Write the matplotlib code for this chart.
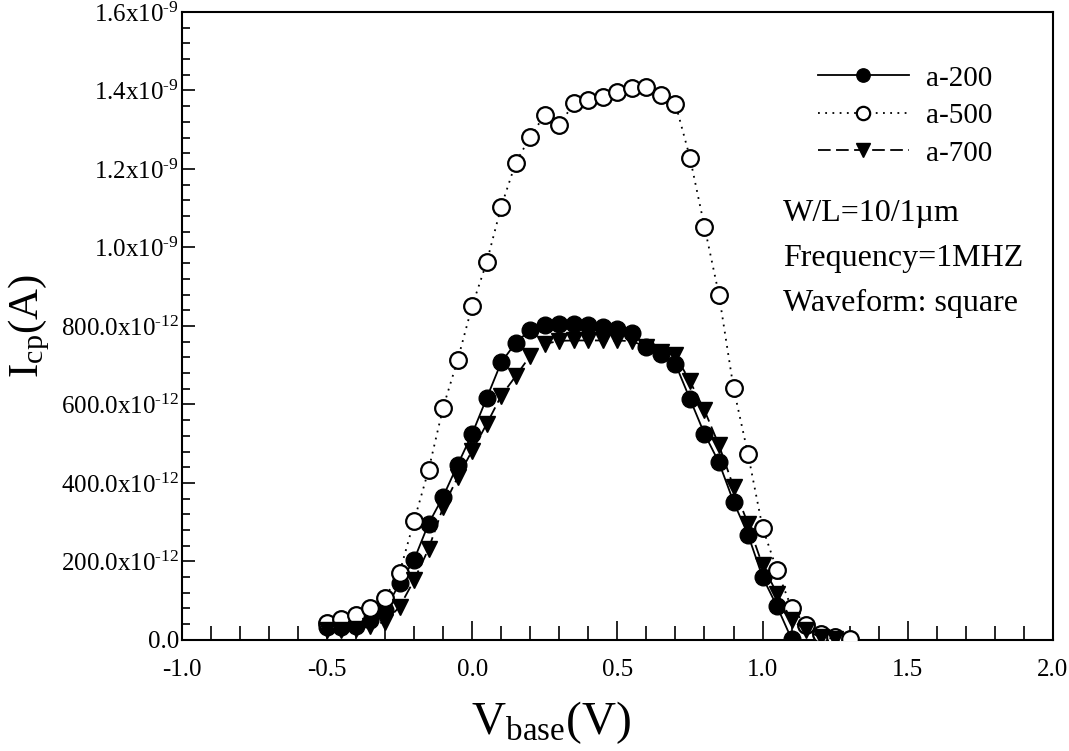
import numpy as np
import matplotlib
matplotlib.use("Agg")
import matplotlib.pyplot as plt
from matplotlib.ticker import FixedLocator, MultipleLocator, FormatStrFormatter

plt.rcParams["font.family"] = ["Liberation Serif", "DejaVu Serif"]
plt.rcParams["mathtext.fontset"] = "custom"
plt.rcParams["mathtext.rm"] = "Liberation Serif"
plt.rcParams["mathtext.it"] = "Liberation Serif:italic"

# base voltage sweeps (V)
v_a200 = np.round(np.arange(-0.50, 1.101, 0.05), 2)
v_a500 = np.round(np.arange(-0.50, 1.301, 0.05), 2)
v_a700 = np.round(np.arange(-0.50, 1.251, 0.05), 2)

# charge pumping current, in pA
icp_a200 = [32, 32, 36, 50, 75, 144, 204, 296, 365, 446, 525, 616, 707, 757,
            790, 803, 804, 805, 802, 798, 792, 783, 747, 729, 703, 614, 525,
            452, 352, 268, 160, 85, 2]
icp_a500 = [43, 53, 64, 81, 107, 171, 303, 433, 592, 713, 851, 962, 1104,
            1216, 1282, 1338, 1312, 1367, 1376, 1384, 1395, 1407, 1408, 1389,
            1366, 1229, 1053, 879, 642, 473, 286, 177, 81, 38, 15, 8, 2]
icp_a700 = [25, 24, 27, 36, 46, 84, 152, 232, 338, 414, 482, 550, 622, 672,
            724, 754, 762, 763, 763, 763, 763, 761, 747, 734, 725, 659, 585,
            496, 390, 296, 190, 118, 50, 25, 6, 3]

y_ticks = [0, 200e-12, 400e-12, 600e-12, 800e-12, 1.0e-9, 1.2e-9, 1.4e-9, 1.6e-9]
y_labels = ["0.0",
            r"200.0x10$^{\text{-12}}$", r"400.0x10$^{\text{-12}}$",
            r"600.0x10$^{\text{-12}}$", r"800.0x10$^{\text{-12}}$",
            r"1.0x10$^{\text{-9}}$", r"1.2x10$^{\text{-9}}$",
            r"1.4x10$^{\text{-9}}$", r"1.6x10$^{\text{-9}}$"]

notes = ["W/L=10/1\u00b5m", "Frequency=1MHZ", "Waveform: square"]

fig = plt.figure(figsize=(10.69, 7.51), dpi=100)
ax = fig.add_axes([0.170, 0.148, 0.815, 0.836])

ms = 12
ax.plot(v_a200, np.array(icp_a200) * 1e-12, color="black", lw=1.3, ls="-",
        marker="o", ms=ms, mfc="black", mec="black", label="a-200", zorder=3)
ax.plot(v_a500, np.array(icp_a500) * 1e-12, color="black", lw=1.3, ls=(0, (1, 3)),
        marker="o", ms=ms, mfc="white", mec="black", mew=1.6, label="a-500", zorder=4)
ax.plot(v_a700, np.array(icp_a700) * 1e-12, color="black", lw=1.3, ls=(0, (7, 3)),
        marker="v", ms=ms, mfc="black", mec="black", label="a-700", zorder=5)

ax.set_xlim(-1.0, 2.0)
ax.set_ylim(0, 1.6e-9)
ax.xaxis.set_major_locator(MultipleLocator(0.5))
ax.xaxis.set_minor_locator(MultipleLocator(0.1))
ax.xaxis.set_major_formatter(FormatStrFormatter("%.1f"))
ax.yaxis.set_major_locator(FixedLocator(y_ticks))
ax.set_yticklabels(y_labels)
ax.yaxis.set_minor_locator(MultipleLocator(40e-12))

ax.tick_params(axis="x", which="major", direction="in", length=14, width=1.2,
               labelsize=18, pad=14, top=False)
ax.tick_params(axis="x", which="minor", direction="in", length=10, width=1.2, top=False)
ax.tick_params(axis="y", which="major", direction="in", length=9.5, width=1.2,
               labelsize=18, pad=2, right=False)
ax.tick_params(axis="y", which="minor", direction="in", length=6, width=1.2, right=False)
for s in ax.spines.values():
    s.set_linewidth(1.5)

ax.set_xlabel(r"V$_{\mathrm{base}}$(V)", fontsize=34)
ax.xaxis.set_label_coords(0.424, -0.095)
ax.set_ylabel(r"I$_{\mathrm{cp}}$(A)", fontsize=31, labelpad=6)

ax.legend(loc="upper left", bbox_to_anchor=(792 / 1069, 1 - 39 / 751),
          bbox_transform=fig.transFigure, frameon=False,
          fontsize=21, numpoints=1, handlelength=3.1, handletextpad=0.6,
          labelspacing=0.38, markerscale=0.8)

# device / measurement conditions
for txt, ypx in zip(notes, [213, 258, 303]):
    fig.text(783 / 1069, 1 - ypx / 751, txt, fontsize=23, va="center", ha="left")

fig.savefig("out.png", dpi=100)
